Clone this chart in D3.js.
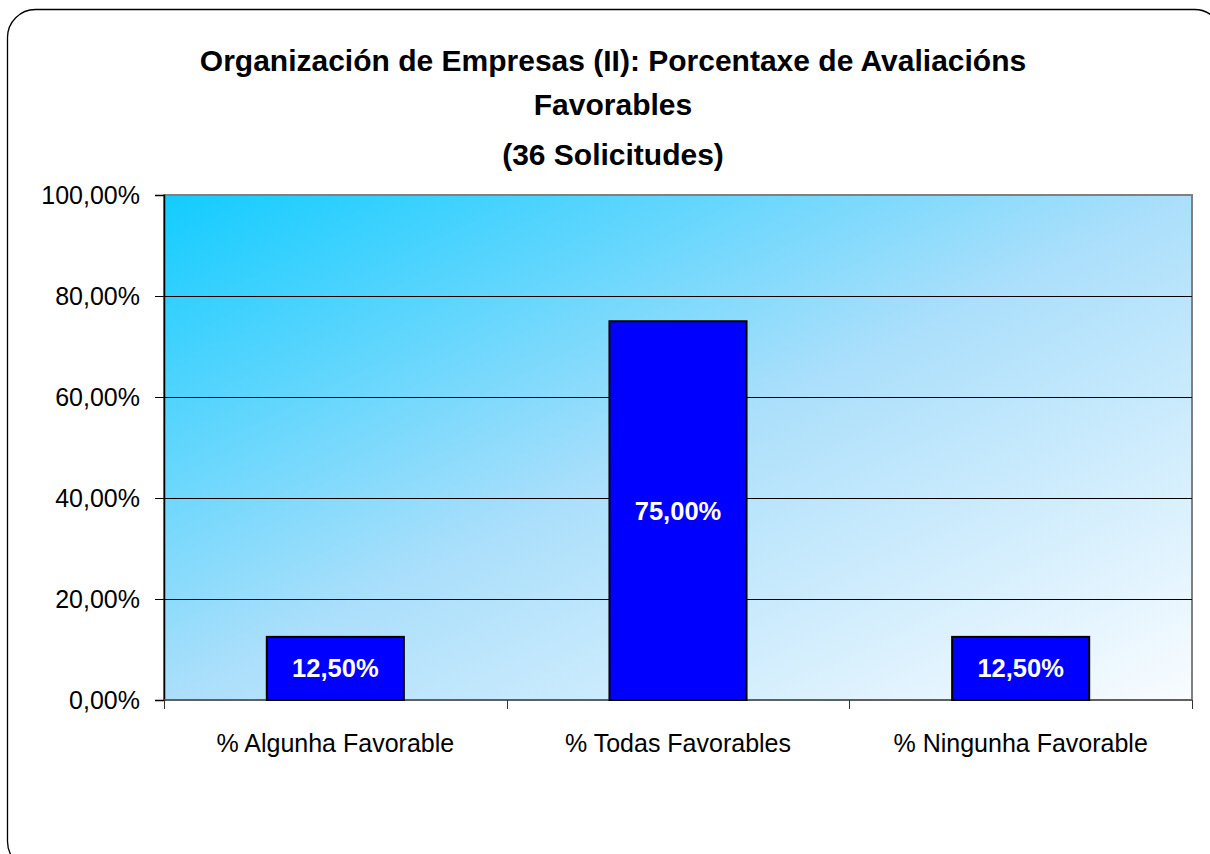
<!DOCTYPE html>
<html>
<head>
<meta charset="utf-8">
<script src="https://cdn.jsdelivr.net/npm/d3@7"></script>
<style>
  body { margin: 0; background: #fff; }
  svg { display: block; font-family: "Liberation Sans", Arial, sans-serif; }
</style>
</head>
<body>
<svg id="chart" width="1210" height="854"></svg>
<script>

var categories = ["% Algunha Favorable", "% Todas Favorables", "% Ningunha Favorable"];
var values = [12.5, 75, 12.5];
var yTicks = [0, 20, 40, 60, 80, 100];
var titleLines = [
    "Organización de Empresas (II): Porcentaxe de Avaliacións",
    "Favorables",
    "(36 Solicitudes)"
];

var W = 1210, H = 854;
var margin = { top: 195, right: 18, bottom: 154, left: 164 };
var plotW = W - margin.left - margin.right;
var plotH = H - margin.top - margin.bottom;

// spanish style number format: 12,50%
function fmtPct(v) {
    return d3.format(".2f")(v).replace(".", ",") + "%";
}

var svg = d3.select("#chart");

// outer rounded frame (runs off the right/bottom edge like the original)
svg.append("rect")
    .attr("x", 7.5).attr("y", 9.5)
    .attr("width", 1215).attr("height", 860)
    .attr("rx", 28).attr("ry", 28)
    .attr("fill", "#fff")
    .attr("stroke", "#000")
    .attr("stroke-width", 1.3);

var defs = svg.append("defs");
var grad = defs.append("linearGradient")
    .attr("id", "bg")
    .attr("x1", 0).attr("y1", 0).attr("x2", 1).attr("y2", 1);
grad.append("stop").attr("offset", "0%").attr("stop-color", "#12ccff");
grad.append("stop").attr("offset", "50%").attr("stop-color", "#abdffb");
grad.append("stop").attr("offset", "100%").attr("stop-color", "#f9fcff");

// title
svg.append("g").selectAll("text")
    .data(titleLines)
    .enter()
    .append("text")
    .attr("x", 613)
    .attr("y", function(d, i) { return [71, 115, 165][i]; })
    .attr("text-anchor", "middle")
    .attr("font-size", 30)
    .attr("font-weight", "bold")
    .attr("fill", "#000")
    .text(function(d) { return d; });

var g = svg.append("g")
    .attr("transform", "translate(" + margin.left + "," + margin.top + ")");

var x = d3.scaleBand().domain(categories).range([0, plotW]).padding(0);
var y = d3.scaleLinear().domain([0, 100]).range([plotH, 0]);

g.append("rect")
    .attr("width", plotW).attr("height", plotH)
    .attr("fill", "url(#bg)")
    .attr("stroke", "#808080")
    .attr("stroke-width", 2);

// gridlines
g.selectAll(".grid")
    .data(yTicks.filter(function(d) { return d > 0 && d < 100; }))
    .enter()
    .append("line")
    .attr("x1", 0).attr("x2", plotW)
    .attr("y1", function(d) { return Math.round(y(d)) + 0.5; })
    .attr("y2", function(d) { return Math.round(y(d)) + 0.5; })
    .attr("stroke", "#000")
    .attr("stroke-width", 1);

// y axis
var yAxis = g.append("g")
    .call(d3.axisLeft(y).tickValues(yTicks).tickSize(9).tickPadding(15).tickFormat(fmtPct));
yAxis.select(".domain").attr("stroke", "#000").attr("stroke-width", 1.5);
yAxis.selectAll("text").attr("font-size", 25).attr("fill", "#000")
    .attr("font-family", "'Liberation Sans', Arial, sans-serif");
yAxis.selectAll(".tick line").attr("stroke", "#000");

// x axis baseline + category separator ticks
g.append("line")
    .attr("x1", 0).attr("x2", plotW)
    .attr("y1", plotH).attr("y2", plotH)
    .attr("stroke", "#555").attr("stroke-width", 1.5);

var bounds = [0].concat(categories.map(function(c) { return x(c) + x.bandwidth(); }));
g.selectAll(".xsep")
    .data(bounds)
    .enter()
    .append("line")
    .attr("x1", function(d) { return Math.round(d) + 0.5; })
    .attr("x2", function(d) { return Math.round(d) + 0.5; })
    .attr("y1", plotH).attr("y2", plotH + 9)
    .attr("stroke", "#333");

g.selectAll(".xlab")
    .data(categories)
    .enter()
    .append("text")
    .attr("x", function(d) { return x(d) + x.bandwidth() / 2; })
    .attr("y", plotH + 52)
    .attr("text-anchor", "middle")
    .attr("font-size", 25)
    .attr("fill", "#000")
    .text(function(d) { return d; });

// bars: width is 40% of each category (excel gap width 150)
var barW = x.bandwidth() / 2.5;
var bars = g.selectAll(".bar")
    .data(values)
    .enter()
    .append("g");

bars.append("rect")
    .attr("x", function(d, i) { return x(categories[i]) + (x.bandwidth() - barW) / 2; })
    .attr("y", function(d) { return y(d); })
    .attr("width", barW)
    .attr("height", function(d) { return plotH - y(d); })
    .attr("fill", "#0000ff")
    .attr("stroke", "#000")
    .attr("stroke-width", 2);

bars.append("text")
    .attr("x", function(d, i) { return x(categories[i]) + x.bandwidth() / 2; })
    .attr("y", function(d) { return (y(d) + plotH) / 2; })
    .attr("dy", "0.35em")
    .attr("text-anchor", "middle")
    .attr("font-size", 25.5)
    .attr("font-weight", "bold")
    .attr("fill", "#fff")
    .text(function(d) { return fmtPct(d); });

</script>
</body>
</html>
